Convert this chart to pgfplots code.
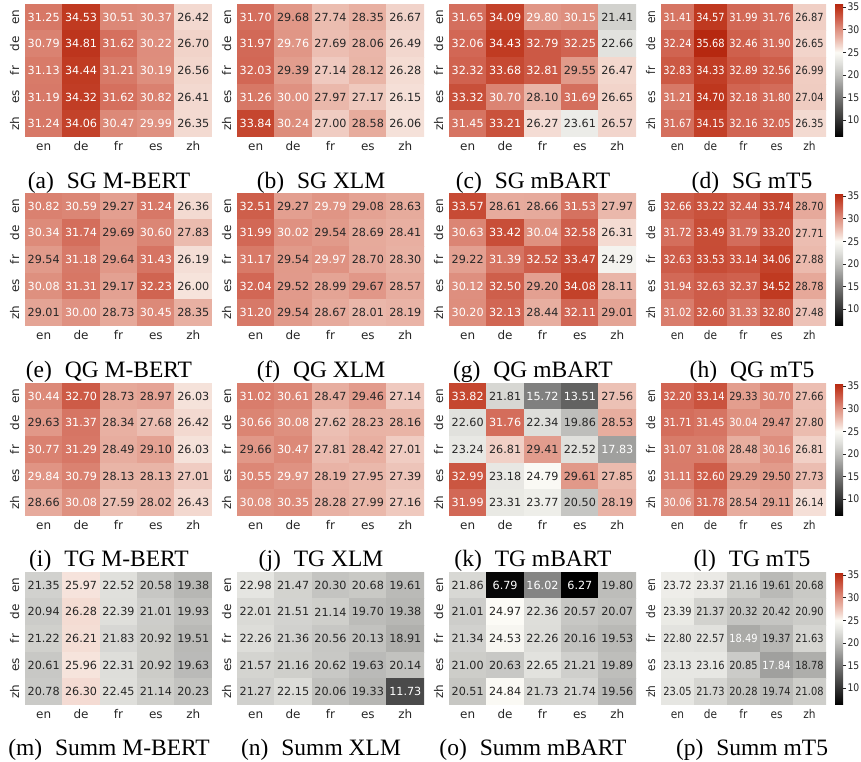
\documentclass[border=0pt]{standalone}
\usepackage{fontspec}
\setmainfont{Liberation Serif}
\newfontfamily\dejavu{DejaVu Sans}
\newfontfamily\dejavun[FakeStretch=0.88]{DejaVu Sans}
\usepackage{pgfplots}
\usepackage{pgfplotstable}
\pgfplotsset{compat=1.18}
\definecolor{txt}{RGB}{38,38,38}
% cell and tick fonts (the last column is narrower, its text is squeezed)
\newcommand\cf{\dejavu\fontsize{11.2}{13}\selectfont}
\newcommand\tf{\dejavu\fontsize{12}{14}\selectfont}
\newcommand\cfn{\dejavun\fontsize{11.2}{13}\selectfont}
\newcommand\tfn{\dejavun\fontsize{12}{14}\selectfont}

% one table per panel: x = column language, y = row language, z = score
\pgfplotstableread[row sep=\\]{x y z\\
0 0 31.25\\ 1 0 34.53\\ 2 0 30.51\\ 3 0 30.37\\ 4 0 26.42\\
0 1 30.79\\ 1 1 34.81\\ 2 1 31.62\\ 3 1 30.22\\ 4 1 26.70\\
0 2 31.13\\ 1 2 34.44\\ 2 2 31.21\\ 3 2 30.19\\ 4 2 26.56\\
0 3 31.19\\ 1 3 34.32\\ 2 3 31.62\\ 3 3 30.82\\ 4 3 26.41\\
0 4 31.24\\ 1 4 34.06\\ 2 4 30.47\\ 3 4 29.99\\ 4 4 26.35\\}\tabA
\pgfplotstableread[row sep=\\]{x y z\\
0 0 31.70\\ 1 0 29.68\\ 2 0 27.74\\ 3 0 28.35\\ 4 0 26.67\\
0 1 31.97\\ 1 1 29.76\\ 2 1 27.69\\ 3 1 28.06\\ 4 1 26.49\\
0 2 32.03\\ 1 2 29.39\\ 2 2 27.14\\ 3 2 28.12\\ 4 2 26.28\\
0 3 31.26\\ 1 3 30.00\\ 2 3 27.97\\ 3 3 27.17\\ 4 3 26.15\\
0 4 33.84\\ 1 4 30.24\\ 2 4 27.00\\ 3 4 28.58\\ 4 4 26.06\\}\tabB
\pgfplotstableread[row sep=\\]{x y z\\
0 0 31.65\\ 1 0 34.09\\ 2 0 29.80\\ 3 0 30.15\\ 4 0 21.41\\
0 1 32.06\\ 1 1 34.43\\ 2 1 32.79\\ 3 1 32.25\\ 4 1 22.66\\
0 2 32.32\\ 1 2 33.68\\ 2 2 32.81\\ 3 2 29.55\\ 4 2 26.47\\
0 3 33.32\\ 1 3 30.70\\ 2 3 28.10\\ 3 3 31.69\\ 4 3 26.65\\
0 4 31.45\\ 1 4 33.21\\ 2 4 26.27\\ 3 4 23.61\\ 4 4 26.57\\}\tabC
\pgfplotstableread[row sep=\\]{x y z\\
0 0 31.41\\ 1 0 34.57\\ 2 0 31.99\\ 3 0 31.76\\ 4 0 26.87\\
0 1 32.24\\ 1 1 35.68\\ 2 1 32.46\\ 3 1 31.90\\ 4 1 26.65\\
0 2 32.83\\ 1 2 34.33\\ 2 2 32.89\\ 3 2 32.56\\ 4 2 26.99\\
0 3 31.21\\ 1 3 34.70\\ 2 3 32.18\\ 3 3 31.80\\ 4 3 27.04\\
0 4 31.67\\ 1 4 34.15\\ 2 4 32.16\\ 3 4 32.05\\ 4 4 26.35\\}\tabD
\pgfplotstableread[row sep=\\]{x y z\\
0 0 30.82\\ 1 0 30.59\\ 2 0 29.27\\ 3 0 31.24\\ 4 0 26.36\\
0 1 30.34\\ 1 1 31.74\\ 2 1 29.69\\ 3 1 30.60\\ 4 1 27.83\\
0 2 29.54\\ 1 2 31.18\\ 2 2 29.64\\ 3 2 31.43\\ 4 2 26.19\\
0 3 30.08\\ 1 3 31.31\\ 2 3 29.17\\ 3 3 32.23\\ 4 3 26.00\\
0 4 29.01\\ 1 4 30.00\\ 2 4 28.73\\ 3 4 30.45\\ 4 4 28.35\\}\tabE
\pgfplotstableread[row sep=\\]{x y z\\
0 0 32.51\\ 1 0 29.27\\ 2 0 29.79\\ 3 0 29.08\\ 4 0 28.63\\
0 1 31.99\\ 1 1 30.02\\ 2 1 29.54\\ 3 1 28.69\\ 4 1 28.41\\
0 2 31.17\\ 1 2 29.54\\ 2 2 29.97\\ 3 2 28.70\\ 4 2 28.30\\
0 3 32.04\\ 1 3 29.52\\ 2 3 28.99\\ 3 3 29.67\\ 4 3 28.57\\
0 4 31.20\\ 1 4 29.54\\ 2 4 28.67\\ 3 4 28.01\\ 4 4 28.19\\}\tabF
\pgfplotstableread[row sep=\\]{x y z\\
0 0 33.57\\ 1 0 28.61\\ 2 0 28.66\\ 3 0 31.53\\ 4 0 27.97\\
0 1 30.63\\ 1 1 33.42\\ 2 1 30.04\\ 3 1 32.58\\ 4 1 26.31\\
0 2 29.22\\ 1 2 31.39\\ 2 2 32.52\\ 3 2 33.47\\ 4 2 24.29\\
0 3 30.12\\ 1 3 32.50\\ 2 3 29.20\\ 3 3 34.08\\ 4 3 28.11\\
0 4 30.20\\ 1 4 32.13\\ 2 4 28.44\\ 3 4 32.11\\ 4 4 29.01\\}\tabG
\pgfplotstableread[row sep=\\]{x y z\\
0 0 32.66\\ 1 0 33.22\\ 2 0 32.44\\ 3 0 33.74\\ 4 0 28.70\\
0 1 31.72\\ 1 1 33.49\\ 2 1 31.79\\ 3 1 33.20\\ 4 1 27.71\\
0 2 32.63\\ 1 2 33.53\\ 2 2 33.14\\ 3 2 34.06\\ 4 2 27.88\\
0 3 31.94\\ 1 3 32.63\\ 2 3 32.37\\ 3 3 34.52\\ 4 3 28.78\\
0 4 31.02\\ 1 4 32.60\\ 2 4 31.33\\ 3 4 32.80\\ 4 4 27.48\\}\tabH
\pgfplotstableread[row sep=\\]{x y z\\
0 0 30.44\\ 1 0 32.70\\ 2 0 28.73\\ 3 0 28.97\\ 4 0 26.03\\
0 1 29.63\\ 1 1 31.37\\ 2 1 28.34\\ 3 1 27.68\\ 4 1 26.42\\
0 2 30.77\\ 1 2 31.29\\ 2 2 28.49\\ 3 2 29.10\\ 4 2 26.03\\
0 3 29.84\\ 1 3 30.79\\ 2 3 28.13\\ 3 3 28.13\\ 4 3 27.01\\
0 4 28.66\\ 1 4 30.08\\ 2 4 27.59\\ 3 4 28.02\\ 4 4 26.43\\}\tabI
\pgfplotstableread[row sep=\\]{x y z\\
0 0 31.02\\ 1 0 30.61\\ 2 0 28.47\\ 3 0 29.46\\ 4 0 27.14\\
0 1 30.66\\ 1 1 30.08\\ 2 1 27.62\\ 3 1 28.23\\ 4 1 28.16\\
0 2 29.66\\ 1 2 30.47\\ 2 2 27.81\\ 3 2 28.42\\ 4 2 27.01\\
0 3 30.55\\ 1 3 29.97\\ 2 3 28.19\\ 3 3 27.95\\ 4 3 27.39\\
0 4 30.08\\ 1 4 30.35\\ 2 4 28.28\\ 3 4 27.99\\ 4 4 27.16\\}\tabJ
\pgfplotstableread[row sep=\\]{x y z\\
0 0 33.82\\ 1 0 21.81\\ 2 0 15.72\\ 3 0 13.51\\ 4 0 27.56\\
0 1 22.60\\ 1 1 31.76\\ 2 1 22.34\\ 3 1 19.86\\ 4 1 28.53\\
0 2 23.24\\ 1 2 26.81\\ 2 2 29.41\\ 3 2 22.52\\ 4 2 17.83\\
0 3 32.99\\ 1 3 23.18\\ 2 3 24.79\\ 3 3 29.61\\ 4 3 27.85\\
0 4 31.99\\ 1 4 23.31\\ 2 4 23.77\\ 3 4 20.50\\ 4 4 28.19\\}\tabK
\pgfplotstableread[row sep=\\]{x y z\\
0 0 32.20\\ 1 0 33.14\\ 2 0 29.33\\ 3 0 30.70\\ 4 0 27.66\\
0 1 31.71\\ 1 1 31.45\\ 2 1 30.04\\ 3 1 29.47\\ 4 1 27.80\\
0 2 31.07\\ 1 2 31.08\\ 2 2 28.48\\ 3 2 30.16\\ 4 2 26.81\\
0 3 31.11\\ 1 3 32.60\\ 2 3 29.29\\ 3 3 29.50\\ 4 3 27.73\\
0 4 30.06\\ 1 4 31.78\\ 2 4 28.54\\ 3 4 29.11\\ 4 4 26.14\\}\tabL
\pgfplotstableread[row sep=\\]{x y z\\
0 0 21.35\\ 1 0 25.97\\ 2 0 22.52\\ 3 0 20.58\\ 4 0 19.38\\
0 1 20.94\\ 1 1 26.28\\ 2 1 22.39\\ 3 1 21.01\\ 4 1 19.93\\
0 2 21.22\\ 1 2 26.21\\ 2 2 21.83\\ 3 2 20.92\\ 4 2 19.51\\
0 3 20.61\\ 1 3 25.96\\ 2 3 22.31\\ 3 3 20.92\\ 4 3 19.63\\
0 4 20.78\\ 1 4 26.30\\ 2 4 22.45\\ 3 4 21.14\\ 4 4 20.23\\}\tabM
\pgfplotstableread[row sep=\\]{x y z\\
0 0 22.98\\ 1 0 21.47\\ 2 0 20.30\\ 3 0 20.68\\ 4 0 19.61\\
0 1 22.01\\ 1 1 21.51\\ 2 1 21.14\\ 3 1 19.70\\ 4 1 19.38\\
0 2 22.26\\ 1 2 21.36\\ 2 2 20.56\\ 3 2 20.13\\ 4 2 18.91\\
0 3 21.57\\ 1 3 21.16\\ 2 3 20.62\\ 3 3 19.63\\ 4 3 20.14\\
0 4 21.27\\ 1 4 22.15\\ 2 4 20.06\\ 3 4 19.33\\ 4 4 11.73\\}\tabN
\pgfplotstableread[row sep=\\]{x y z\\
0 0 21.86\\ 1 0 6.79\\ 2 0 16.02\\ 3 0 6.27\\ 4 0 19.80\\
0 1 21.01\\ 1 1 24.97\\ 2 1 22.36\\ 3 1 20.57\\ 4 1 20.07\\
0 2 21.34\\ 1 2 24.53\\ 2 2 22.26\\ 3 2 20.16\\ 4 2 19.53\\
0 3 21.00\\ 1 3 20.63\\ 2 3 22.65\\ 3 3 21.21\\ 4 3 19.89\\
0 4 20.51\\ 1 4 24.84\\ 2 4 21.73\\ 3 4 21.74\\ 4 4 19.56\\}\tabO
\pgfplotstableread[row sep=\\]{x y z\\
0 0 23.72\\ 1 0 23.37\\ 2 0 21.16\\ 3 0 19.61\\ 4 0 20.68\\
0 1 23.39\\ 1 1 21.37\\ 2 1 20.32\\ 3 1 20.42\\ 4 1 20.90\\
0 2 22.80\\ 1 2 22.57\\ 2 2 18.49\\ 3 2 19.37\\ 4 2 21.63\\
0 3 23.13\\ 1 3 23.16\\ 2 3 20.85\\ 3 3 17.84\\ 4 3 18.78\\
0 4 23.05\\ 1 4 21.73\\ 2 4 20.28\\ 3 4 19.74\\ 4 4 21.08\\}\tabP

\pgfplotsset{
  colormap={greyred}{rgb255(6.27pt)=(0,0,0) rgb255(15.7pt)=(128,128,127)
    rgb255(20pt)=(192,192,189) rgb255(22.5pt)=(224,224,220) rgb255(25pt)=(252,251,246)
    rgb255(26.4pt)=(243,217,208) rgb255(28.35pt)=(232,176,162) rgb255(30.5pt)=(220,136,119)
    rgb255(32pt)=(210,104,86) rgb255(34.5pt)=(192,58,33) rgb255(35.68pt)=(182,40,16)},
  heat/.style={
    scale only axis, width=187pt, height=133pt, anchor=north west,
    xmin=-0.5, xmax=4.5, ymin=-0.5, ymax=4.5, y dir=reverse,
    xtick={0,...,4}, ytick={0,...,4},
    xticklabels={en,de,fr,es,zh}, yticklabels={en,de,fr,es,zh},
    major tick length=0pt,
    axis line style={draw=none},
    tick label style={font=\tf, text=txt},
    xticklabel style={anchor=base, yshift=-14pt},
    yticklabel style={xshift=-6pt, rotate=90, anchor=base},
    colormap name=greyred,
    point meta min=6.27, point meta max=35.68,
  },
  celltext/.style={
    draw=none, mark=none, point meta=explicit symbolic,
    nodes near coords={\pgfplotspointmeta},
    every node near coord/.append style={anchor=center, inner sep=0pt,
      font=\cf, text=#1},
  },
  bar/.style={
    colorbar, colorbar shift/.style={},
    colorbar style={
      at={(parent axis.north east)}, anchor=north west, xshift=9pt,
      width=8pt, scale only axis,
      ytick={10,15,20,25,30,35},
      ytick pos=right, yticklabel pos=right, tick align=outside,
      major tick length=3pt,
      tick style={draw=txt, line width=0.6pt},
      axis line style={draw=none},
      yticklabel style={font=\dejavun\fontsize{10.5}{12}\selectfont, text=txt, xshift=-2pt},
      /pgf/number format/assume math mode=true,
    },
  },
}
\tikzset{subcap/.style={anchor=base, font=\fontsize{23.5}{28}\selectfont}}

% #1 position of the top left corner, #2 table, #3 further axis options
\newcommand\panel[3]{%
\begin{axis}[heat, at={#1}, #3]
\addplot[matrix plot*, mesh/cols=5, point meta=explicit] table[meta=z] {#2};
\addplot[celltext=txt, restrict expr to domain={\thisrow{z}}{18.6:29.7}] table[meta=z] {#2};
\addplot[celltext=white, restrict expr to domain={\thisrow{z}}{29.7:40}] table[meta=z] {#2};
\addplot[celltext=white, restrict expr to domain={\thisrow{z}}{0:18.6}] table[meta=z] {#2};
\end{axis}}
% last column: narrower panel with colour bar
\newcommand\lastpanel[2]{{\let\cf\cfn\let\tf\tfn
\panel{#1}{#2}{bar, width=165pt}}}

\begin{document}
\begin{tikzpicture}
\path[use as bounding box] (0,0) rectangle (861pt,762pt);

% row 1: SG
\panel{(25pt,758pt)}{\tabA}{}
\panel{(237pt,758pt)}{\tabB}{}
\panel{(449pt,758pt)}{\tabC}{}
\lastpanel{(661pt,758pt)}{\tabD}
\node[subcap] at (109pt,573pt) {(a)\hspace{0.55em}SG M-BERT};
\node[subcap] at (321pt,573pt) {(b)\hspace{0.55em}SG XLM};
\node[subcap] at (533pt,573pt) {(c)\hspace{0.55em}SG mBART};
\node[subcap] at (752pt,573pt) {(d)\hspace{0.55em}SG mT5};

% row 2: QG
\panel{(25pt,569pt)}{\tabE}{}
\panel{(237pt,569pt)}{\tabF}{}
\panel{(449pt,569pt)}{\tabG}{}
\lastpanel{(661pt,569pt)}{\tabH}
\node[subcap] at (109pt,384pt) {(e)\hspace{0.55em}QG M-BERT};
\node[subcap] at (321pt,384pt) {(f)\hspace{0.55em}QG XLM};
\node[subcap] at (533pt,384pt) {(g)\hspace{0.55em}QG mBART};
\node[subcap] at (752pt,384pt) {(h)\hspace{0.55em}QG mT5};

% row 3: TG
\panel{(25pt,379pt)}{\tabI}{}
\panel{(237pt,379pt)}{\tabJ}{}
\panel{(449pt,379pt)}{\tabK}{}
\lastpanel{(661pt,379pt)}{\tabL}
\node[subcap] at (109pt,195pt) {(i)\hspace{0.55em}TG M-BERT};
\node[subcap] at (321pt,195pt) {(j)\hspace{0.55em}TG XLM};
\node[subcap] at (533pt,195pt) {(k)\hspace{0.55em}TG mBART};
\node[subcap] at (752pt,195pt) {(l)\hspace{0.55em}TG mT5};

% row 4: Summ
\panel{(25pt,190pt)}{\tabM}{}
\panel{(237pt,190pt)}{\tabN}{}
\panel{(449pt,190pt)}{\tabO}{}
\lastpanel{(661pt,190pt)}{\tabP}
\node[subcap] at (109pt,6pt) {(m)\hspace{0.55em}Summ M-BERT};
\node[subcap] at (321pt,6pt) {(n)\hspace{0.55em}Summ XLM};
\node[subcap] at (533pt,6pt) {(o)\hspace{0.55em}Summ mBART};
\node[subcap] at (752pt,6pt) {(p)\hspace{0.55em}Summ mT5};
\end{tikzpicture}
\end{document}
